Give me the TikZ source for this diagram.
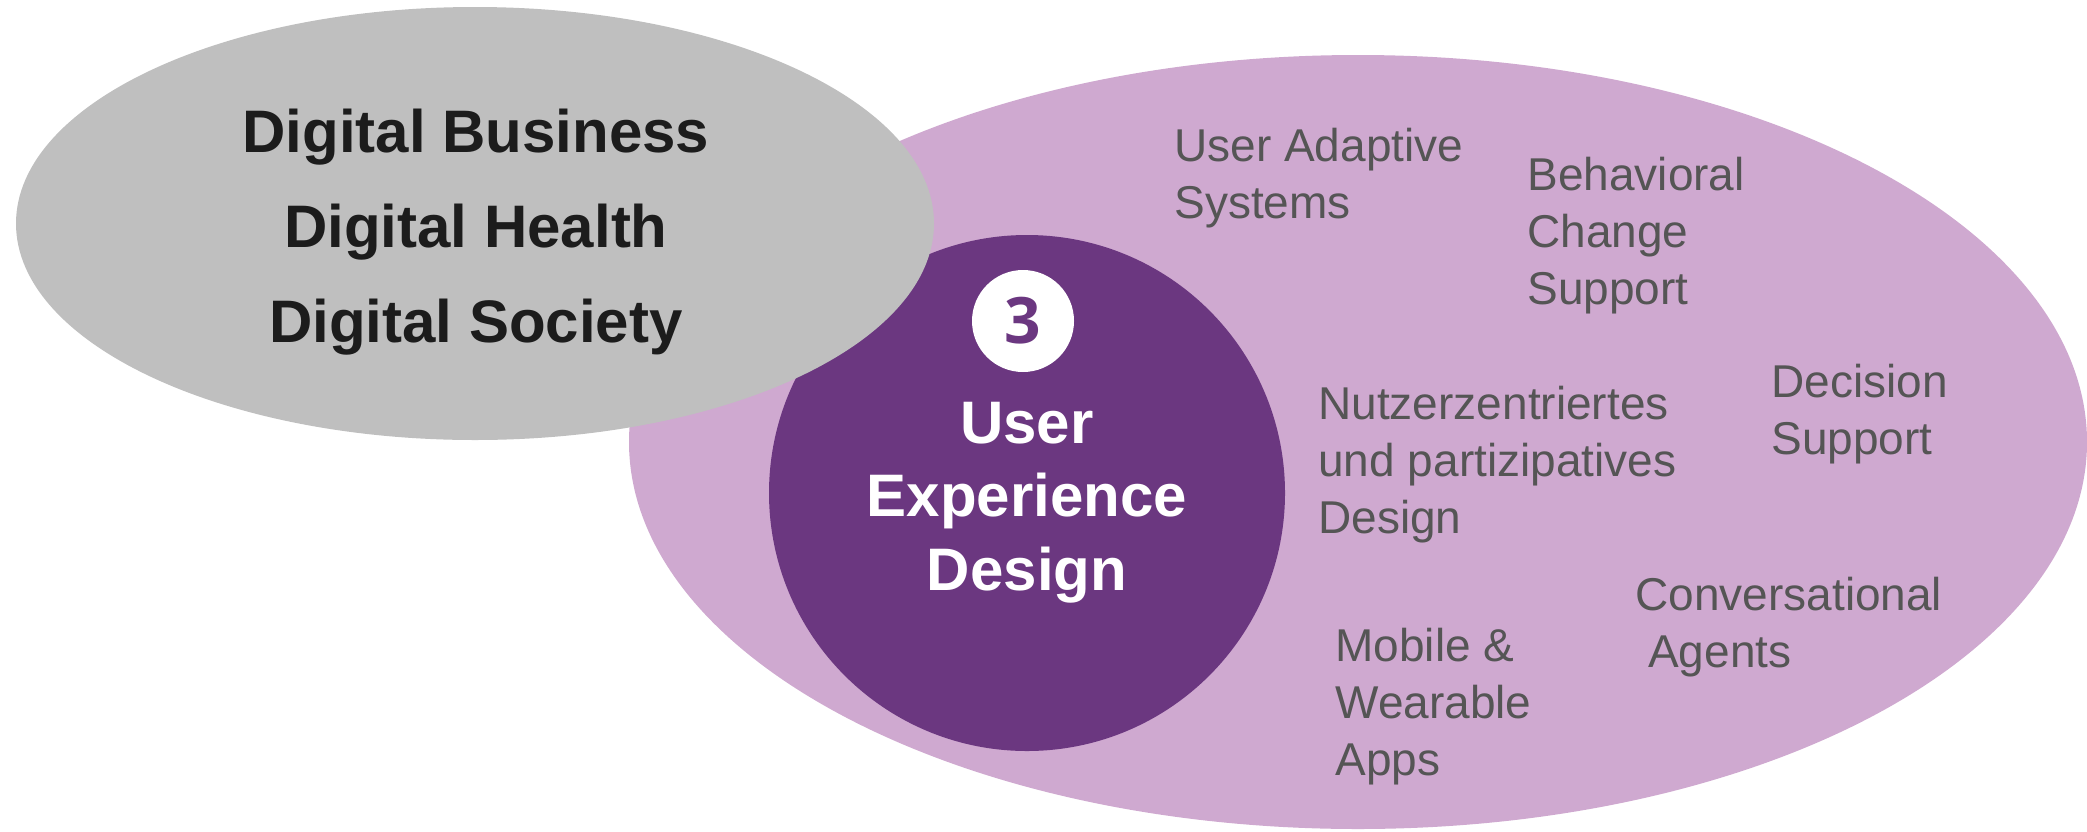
\documentclass[tikz,border=0pt]{standalone}
\usepackage{fontspec}
\setmainfont{Liberation Sans}
\newfontfamily\digitfont{Open Sans}
\definecolor{lightpurple}{HTML}{CFA9D0}
\definecolor{darkpurple}{HTML}{6B3780}
\definecolor{greyfill}{HTML}{BFBFBF}
\definecolor{labelgrey}{HTML}{555555}
\definecolor{titleblack}{HTML}{1C1C1C}
\tikzset{
  topic/.style={anchor=base west, inner sep=0pt, align=left, text=labelgrey,
    font=\fontsize{23}{28.5}\selectfont},
  fieldtext/.style={anchor=base, inner sep=0pt, align=center, text=titleblack,
    font=\bfseries\fontsize{30}{47.5}\selectfont},
  uxtext/.style={anchor=base, inner sep=0pt, align=center, text=white,
    font=\bfseries\fontsize{30}{36.75}\selectfont},
}
\begin{document}
\begin{tikzpicture}[x=0.5pt,y=-0.5pt]
\useasboundingbox (0,0) rectangle (2087,831);
% outer light purple ellipse
\fill[lightpurple] (1358,442) ellipse [x radius=729, y radius=387];
% dark purple circle
\fill[darkpurple] (1027,493) circle [radius=258];
% grey ellipse on top
\fill[greyfill] (475,223.5) ellipse [x radius=459, y radius=216.5];
% number badge
\node[circle, fill=white, minimum size=102pt*0.5, inner sep=0pt,
      text=darkpurple, font=\digitfont\bfseries\fontsize{32}{32}\selectfont] (badge) at (1023,321) {3};
% texts (base anchor = baseline of last line)
\node[fieldtext] (fields) at (476,342) {Digital Business\\Digital Health\\Digital Society};
\node[uxtext] (ux) at (1027,590) {User\\Experience\\Design};
\node[topic] (adaptive) at (1174,218) {User Adaptive\\Systems};
\node[topic] (behav) at (1527,304) {Behavioral\\Change\\Support};
\node[topic] (nutzer) at (1318,533) {Nutzerzentriertes\\und partizipatives\\Design};
\node[topic] (decision) at (1771,454) {Decision\\Support};
\node[topic] (conv) at (1635,667) {Conversational\\\hspace*{0.278em}Agents};
\node[topic] (mobile) at (1335,775) {Mobile \&\\Wearable\\Apps};
\end{tikzpicture}
\end{document}
